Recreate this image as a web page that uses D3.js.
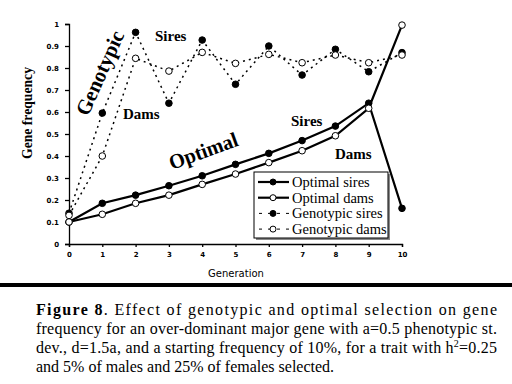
<!DOCTYPE html>
<html><head>
<script src="https://d3js.org/d3.v7.min.js"></script>
<style>
  body { margin: 0; background: #fff; }
  svg { display: block; }
</style>
</head>
<body>
<svg id="svg1" width="512" height="384"></svg>
<script>

// data
const generations = [0, 1, 2, 3, 4, 5, 6, 7, 8, 9, 10];
const optimalSires   = [0.10, 0.185, 0.222, 0.265, 0.310, 0.362, 0.412, 0.470, 0.536, 0.640, 0.162];
const optimalDams    = [0.10, 0.135, 0.185, 0.222, 0.271, 0.318, 0.370, 0.424, 0.492, 0.617, 0.995];
const genotypicSires = [0.14, 0.595, 0.962, 0.640, 0.927, 0.726, 0.900, 0.768, 0.885, 0.783, 0.870];
const genotypicDams  = [0.13, 0.400, 0.844, 0.786, 0.871, 0.821, 0.862, 0.824, 0.859, 0.824, 0.859];
const yTicks = [0, 0.1, 0.2, 0.3, 0.4, 0.5, 0.6, 0.7, 0.8, 0.9, 1];
const legendLabels = ["Optimal sires", "Optimal dams", "Genotypic sires", "Genotypic dams"];

const serif = "'Liberation Serif', 'Times New Roman', Tinos, Times, serif";

let svg1 = d3.select("svg#svg1");
svg1.append("rect").attr("width", 512).attr("height", 384).attr("fill", "#fff");

let xScale = d3.scaleLinear().domain([0, 10]).range([69, 402]);
let yScale = d3.scaleLinear().domain([0, 1]).range([244, 24]);

// axes
let leftAxis = d3.axisLeft(yScale).tickValues(yTicks).tickSize(4).tickPadding(6)
                 .tickFormat(d => d === 0 || d === 1 ? "" + d : d.toFixed(1));
let bottomAxis = d3.axisBottom(xScale).tickValues(generations).tickSize(3).tickPadding(5)
                   .tickFormat(d => "" + d);

let yAx = svg1.append("g").attr("class", "axis")
      .attr("transform", `translate(${xScale(0)},0)`)
      .call(leftAxis);
let xAx = svg1.append("g").attr("class", "axis")
      .attr("transform", `translate(0,${yScale(0)})`)
      .call(bottomAxis);
[yAx, xAx].forEach(a => {
  a.selectAll("path.domain").attr("stroke", "#000").attr("stroke-width", 1.3);
  a.selectAll(".tick line").attr("stroke", "#000").attr("stroke-width", 1.3);
  a.selectAll("text").attr("font-family", "DejaVu Sans").attr("font-weight", "bold")
   .attr("font-size", 7).attr("fill", "#000");
});

// axis titles
svg1.append("text")
    .attr("transform", "translate(32,113) rotate(-90)")
    .attr("text-anchor", "middle")
    .style("font-family", serif).attr("font-weight", "bold").attr("font-size", 15)
    .attr("textLength", 92).attr("lengthAdjust", "spacingAndGlyphs")
    .text("Gene frequency");
svg1.append("text")
    .attr("x", 236).attr("y", 277)
    .attr("text-anchor", "middle")
    .attr("font-family", "DejaVu Sans").attr("font-size", 10)
    .text("Generation");

// series
const series = [
  { name: legendLabels[0], values: optimalSires,   filled: true,  dashed: false },
  { name: legendLabels[1], values: optimalDams,    filled: false, dashed: false },
  { name: legendLabels[2], values: genotypicSires, filled: true,  dashed: true  },
  { name: legendLabels[3], values: genotypicDams,  filled: false, dashed: true  }
];

let lineGen = d3.line()
    .x((d, i) => xScale(generations[i]))
    .y(d => yScale(d));

let chartArea = svg1.append("g");
let groups = chartArea.selectAll("g.series").data(series).join("g").attr("class", "series");

groups.append("path")
    .attr("fill", "none")
    .attr("stroke", "#000")
    .attr("stroke-width", d => d.dashed ? 1.5 : 2.2)
    .attr("stroke-dasharray", d => d.dashed ? "2,4" : null)
    .attr("d", d => lineGen(d.values));

groups.selectAll("circle").data(d => d.values.map(v => ({ v: v, filled: d.filled })))
    .join("circle")
    .attr("cx", (d, i) => xScale(generations[i]))
    .attr("cy", d => yScale(d.v))
    .attr("r", 3.3)
    .attr("fill", d => d.filled ? "#000" : "#fff")
    .attr("stroke", "#000")
    .attr("stroke-width", 1);

// annotations on the plot
function note(txt, x, y, size, rot, len, anchor) {
  let t = svg1.append("text")
      .attr("transform", `translate(${x},${y}) rotate(${rot})`)
      .style("font-family", serif).attr("font-weight", "bold").attr("font-size", size)
      .attr("text-anchor", anchor || "start")
      .text(txt);
  if (len) t.attr("textLength", len).attr("lengthAdjust", "spacingAndGlyphs");
  return t;
}
note("Genotypic", 100, 73, 21, -66, 90, "middle").attr("dominant-baseline", "central");
note("Optimal", 172, 170, 21, -20, 72);
note("Sires", 155, 41, 15, 0);
note("Dams", 123, 119, 15, 0);
note("Sires", 291, 126, 15, 0);
note("Dams", 335, 159, 15, 0);

// legend
let legend = svg1.append("g");
legend.append("rect").attr("x", 256).attr("y", 174).attr("width", 134).attr("height", 66)
      .attr("fill", "#888");
legend.append("rect").attr("x", 254).attr("y", 172).attr("width", 134).attr("height", 66)
      .attr("fill", "#fff").attr("stroke", "#000").attr("stroke-width", 1);

let items = legend.selectAll("g.item").data(series).join("g").attr("class", "item")
    .attr("transform", (d, i) => `translate(0,${182 + i * 15.7})`);
items.append("line")
    .attr("x1", 258).attr("x2", 289).attr("y1", 0).attr("y2", 0)
    .attr("stroke", "#000")
    .attr("stroke-width", d => d.dashed ? 1 : 2.2)
    .attr("stroke-dasharray", d => d.dashed ? "3,6" : null)
    .attr("stroke-dashoffset", d => d.dashed ? -1 : null);
items.append("circle")
    .attr("cx", 273).attr("cy", 0).attr("r", 3)
    .attr("fill", d => d.filled ? "#000" : "#fff")
    .attr("stroke", "#000").attr("stroke-width", 1);
items.append("text")
    .attr("x", 292).attr("y", 5)
    .style("font-family", serif).attr("font-size", 14.5)
    .text(d => d.name);

// caption
svg1.append("rect").attr("x", 0).attr("y", 283).attr("width", 512).attr("height", 4).attr("fill", "#000");

let cap = svg1.append("g").style("font-family", serif).attr("font-size", 16).attr("fill", "#000");
let l1 = cap.append("text").attr("x", 36).attr("y", 315)
    .attr("textLength", 461).attr("lengthAdjust", "spacing");
l1.append("tspan").attr("font-weight", "bold").text("Figure 8");
l1.append("tspan").text(". Effect of genotypic and optimal selection on gene");
cap.append("text").attr("x", 36).attr("y", 334)
    .attr("textLength", 461).attr("lengthAdjust", "spacing")
    .text("frequency  for an over-dominant major gene with a=0.5 phenotypic st.");
let l3 = cap.append("text").attr("x", 36).attr("y", 353)
    .attr("textLength", 461).attr("lengthAdjust", "spacing");
l3.append("tspan").text("dev., d=1.5a, and a starting frequency of 10%,  for a trait with h");
l3.append("tspan").attr("font-size", 10).attr("dy", -6).text("2");
l3.append("tspan").attr("dy", 6).text("=0.25");
cap.append("text").attr("x", 36).attr("y", 372)
    .text("and 5% of males and 25% of females selected.");

</script>
</body>
</html>
